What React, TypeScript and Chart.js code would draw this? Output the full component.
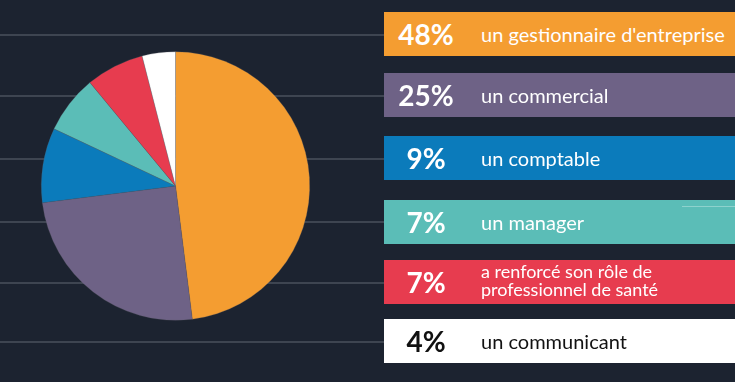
import React, { useEffect, useRef } from "react";
import { Chart, registerables } from "chart.js";

Chart.register(...registerables);

const categories: string[][] = [
  ["un gestionnaire d'entreprise"],
  ["un commercial"],
  ["un comptable"],
  ["un manager"],
  ["a renforcé son rôle de", "professionnel de santé"],
  ["un communicant"],
];
const values = [48, 25, 9, 7, 7, 4];
const percentLabels = ["48%", "25%", "9%", "7%", "7%", "4%"];
const sliceColors = ["#F49D31", "#6E6286", "#0B7BBB", "#5BBDB7", "#E73C4F", "#FFFFFF"];
const textColors = ["#FFFFFF", "#FFFFFF", "#FFFFFF", "#FFFFFF", "#FFFFFF", "#111111"];
const guideLinesY = [35, 96, 159, 222, 283, 342];
const boxTops = [12, 73, 136, 200, 259.5, 319];

const W = 735;
const H = 382;
const BG = "#1C2330";

export default function App() {
  const ref = useRef<HTMLCanvasElement | null>(null);

  useEffect(() => {
    if (!ref.current) return;
    const bgPlugin = {
      id: "bgLines",
      beforeDraw(chart: any) {
        const ctx = chart.ctx;
        ctx.save();
        ctx.fillStyle = BG;
        ctx.fillRect(0, 0, chart.width, chart.height);
        ctx.strokeStyle = "#4A525D";
        ctx.lineWidth = 1.5;
        guideLinesY.forEach((y) => {
          ctx.beginPath();
          ctx.moveTo(0, y);
          ctx.lineTo(390, y);
          ctx.stroke();
        });
        ctx.restore();
      },
    };
    const chart = new Chart(ref.current, {
      type: "pie",
      data: {
        labels: categories.map((c) => c.join(" ")),
        datasets: [
          {
            data: values,
            backgroundColor: sliceColors,
            borderColor: "rgba(90,90,100,0.5)",
            borderWidth: 0.5,
          },
        ],
      },
      options: {
        responsive: false,
        animation: false,
        devicePixelRatio: 1,
        layout: { padding: { left: 41, top: 51.5, right: 425, bottom: 61.5 } },
        plugins: {
          legend: { display: false },
          tooltip: { enabled: false },
        },
      },
      plugins: [bgPlugin],
    });
    return () => chart.destroy();
  }, []);

  return (
    <div
      style={{
        position: "fixed",
        left: 0,
        top: 0,
        width: W,
        height: H,
        background: BG,
        overflow: "hidden",
        fontFamily: "Lato, sans-serif",
      }}
    >
      <canvas ref={ref} width={W} height={H} style={{ position: "absolute", left: 0, top: 0, width: W, height: H }} />
      {categories.map((lines, i) => (
        <div
          key={i}
          style={{
            position: "absolute",
            left: 384,
            top: boxTops[i],
            width: W - 384,
            height: 44,
            background: sliceColors[i],
            color: textColors[i],
            display: "flex",
            alignItems: "center",
          }}
        >
          <div
            style={{
              width: 84,
              textAlign: "center",
              fontWeight: 700,
              fontSize: 28,
              lineHeight: "44px",
            }}
          >
            {percentLabels[i]}
          </div>
          <div
            style={{
              marginLeft: 13,
              fontSize: lines.length > 1 ? 18 : 20,
              lineHeight: lines.length > 1 ? "17.5px" : "20px",
              whiteSpace: "nowrap",
              marginTop: lines.length > 1 ? -2 : 0,
            }}
          >
            {lines.map((l, j) => (
              <div key={j}>{l}</div>
            ))}
          </div>
        </div>
      ))}
      <div
        style={{
          position: "absolute",
          left: 682,
          top: 205.5,
          width: 53,
          height: 1.5,
          background: "#8ED2CD",
        }}
      />
    </div>
  );
}
